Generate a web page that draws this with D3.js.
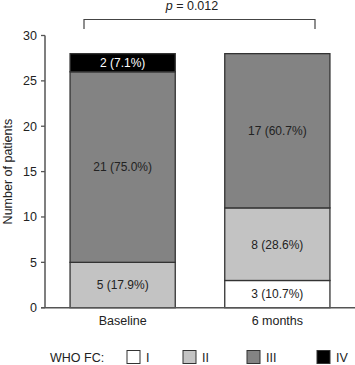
<!DOCTYPE html>
<html>
<head>
<meta charset="utf-8">
<script src="https://cdn.jsdelivr.net/npm/d3@7"></script>
<style>
  body { margin: 0; background: #fff; }
  svg { display: block; font-family: Arial, "Liberation Sans", sans-serif; }
</style>
</head>
<body>
<div id="chart"></div>
<script>
// data
const groups = ["Baseline", "6 months"];
const classes = ["I", "II", "III", "IV"];
const counts = {
  "Baseline": [0, 5, 21, 2],
  "6 months": [3, 8, 17, 0]
};
const pcts = {
  "Baseline": ["", "17.9%", "75.0%", "7.1%"],
  "6 months": ["10.7%", "28.6%", "60.7%", ""]
};
const yTicks = [0, 5, 10, 15, 20, 25, 30];
const pText = "0.012";

const colors = { I: "#ffffff", II: "#c3c3c3", III: "#838383", IV: "#000000" };

const W = 355, H = 365;
const svg = d3.select("#chart").append("svg").attr("width", W).attr("height", H);

const x0 = 45, x1 = 355;
const y = d3.scaleLinear().domain([0, 30]).range([307.7, 35.5]);
// band scale, padding tuned so bars sit where the reference has them
const x = d3.scaleBand().domain(groups).range([x0, x1]).paddingInner(0.32).paddingOuter(0.162);
const bw = x.bandwidth();

// stacked bars
groups.forEach(g => {
  let acc = 0;
  const stack = counts[g].map((v, i) => {
    const s = { cls: classes[i], v: v, pct: pcts[g][i], y0: acc, y1: acc + v };
    acc += v;
    return s;
  }).filter(s => s.v > 0);

  const gg = svg.append("g");
  gg.selectAll("rect")
    .data(stack)
    .join("rect")
    .attr("x", x(g))
    .attr("width", bw)
    .attr("y", d => y(d.y1))
    .attr("height", d => y(d.y0) - y(d.y1))
    .attr("fill", d => colors[d.cls])
    .attr("stroke", "#333")
    .attr("stroke-width", 1.3);

  gg.selectAll("text")
    .data(stack)
    .join("text")
    .attr("x", x(g) + bw / 2)
    .attr("y", d => (y(d.y0) + y(d.y1)) / 2)
    .attr("dy", "0.36em")
    .attr("text-anchor", "middle")
    .attr("font-size", 12)
    .attr("fill", d => d.cls === "IV" ? "#fff" : "#222")
    .text(d => d.v + " (" + d.pct + ")");
});

// axes
const axisColor = "#555";
const yAxis = svg.append("g");
yAxis.append("line")
  .attr("x1", x0).attr("x2", x0)
  .attr("y1", y(30)).attr("y2", y(0))
  .attr("stroke", axisColor).attr("stroke-width", 1.5);
yAxis.selectAll(".tick")
  .data(yTicks)
  .join("line")
  .attr("x1", 41).attr("x2", x0)
  .attr("y1", d => y(d)).attr("y2", d => y(d))
  .attr("stroke", axisColor).attr("stroke-width", 1.3);
yAxis.selectAll("text")
  .data(yTicks)
  .join("text")
  .attr("x", 37)
  .attr("y", d => y(d))
  .attr("dy", "0.36em")
  .attr("text-anchor", "end")
  .attr("font-size", 12.5)
  .attr("fill", "#222")
  .text(d => d);

svg.append("line")
  .attr("x1", 41).attr("x2", x1)
  .attr("y1", y(0)).attr("y2", y(0))
  .attr("stroke", axisColor).attr("stroke-width", 1.5);

svg.selectAll(".xlab")
  .data(groups)
  .join("text")
  .attr("x", d => x(d) + bw / 2)
  .attr("y", 325)
  .attr("text-anchor", "middle")
  .attr("font-size", 12.5)
  .attr("fill", "#222")
  .text(d => d);

svg.append("text")
  .attr("transform", "translate(12," + ((y(0) + y(30)) / 2) + ") rotate(-90)")
  .attr("text-anchor", "middle")
  .attr("font-size", 12.5)
  .attr("fill", "#222")
  .text("Number of patients");

// significance bracket
const bx0 = 84, bx1 = 315, by = 19.5;
svg.append("path")
  .attr("d", `M${bx0},29V${by}H${bx1}V29`)
  .attr("fill", "none")
  .attr("stroke", "#444")
  .attr("stroke-width", 1.2);
const pt = svg.append("text")
  .attr("x", 192)
  .attr("y", 10)
  .attr("text-anchor", "middle")
  .attr("font-size", 12.5)
  .attr("fill", "#222");
pt.append("tspan").attr("font-style", "italic").text("p");
pt.append("tspan").text(" = " + pText);

// legend
const legY = 357;
svg.append("text")
  .attr("x", 50).attr("y", legY).attr("dy", "0.36em")
  .attr("font-size", 12.5).attr("fill", "#222")
  .text("WHO FC:");
const legX = [127, 183, 247, 317];
const leg = svg.selectAll(".leg")
  .data(classes)
  .join("g")
  .attr("transform", (d, i) => `translate(${legX[i]},${legY - 6.5})`);
leg.append("rect")
  .attr("width", 13).attr("height", 13)
  .attr("fill", d => colors[d])
  .attr("stroke", "#333").attr("stroke-width", 1);
leg.append("text")
  .attr("x", 19).attr("y", 6.5).attr("dy", "0.36em")
  .attr("font-size", 12.5).attr("fill", "#222")
  .text(d => d);
</script>
</body>
</html>
